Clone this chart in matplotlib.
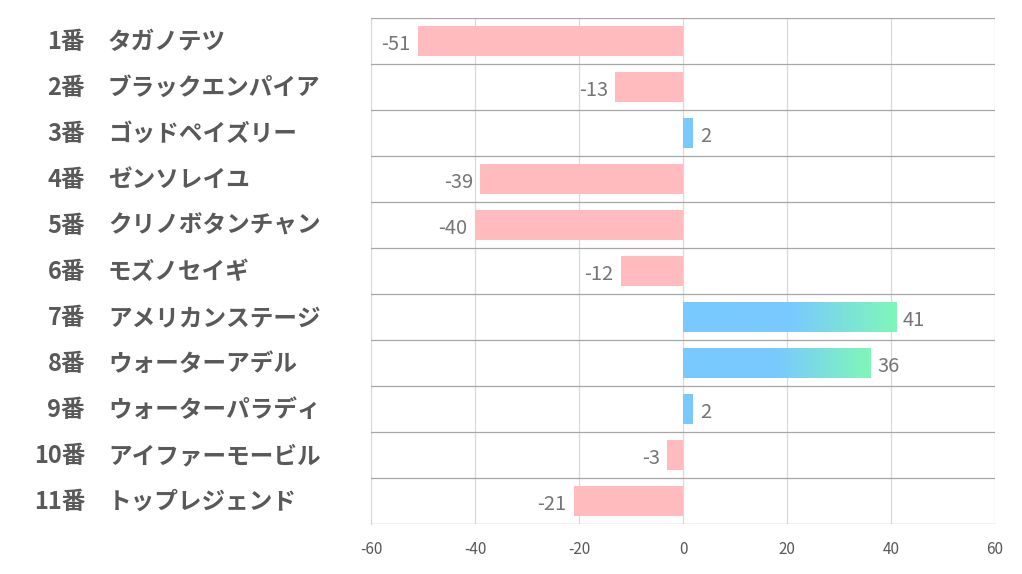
import numpy as np
import matplotlib.pyplot as plt
from matplotlib.colors import LinearSegmentedColormap
from matplotlib.transforms import blended_transform_factory

numbers = ['1番', '2番', '3番', '4番', '5番', '6番', '7番', '8番', '9番', '10番', '11番']
names = ['タガノテツ', 'ブラックエンパイア', 'ゴッドペイズリー', 'ゼンソレイユ', 'クリノボタンチャン',
         'モズノセイギ', 'アメリカンステージ', 'ウォーターアデル', 'ウォーターパラディ',
         'アイファーモービル', 'トップレジェンド']
values = [-51, -13, 2, -39, -40, -12, 41, 36, 2, -3, -21]
xticks = [-60, -40, -20, 0, 20, 40, 60]

plt.rcParams['font.family'] = ['Noto Sans CJK JP', 'DejaVu Sans']

fig = plt.figure(figsize=(10.22, 5.74), dpi=100)
ax = fig.add_axes([0.363, 0.0871, 0.6106, 0.8815])

n = len(values)
ypos = np.arange(n)
bars = ax.barh(ypos, values, height=0.65, color='#FFBBBD', zorder=2)

# gradient fill for the long positive bars: blue then fade to green over the outer half
cmap = LinearSegmentedColormap.from_list(
    'bg', [(0, '#79C9FF'), (0.5, '#79C9FF'), (1, '#7FF7B9')])
grad = np.linspace(0, 1, 256).reshape(1, -1)
for b, v in zip(bars, values):
    if v > 10:
        b.set_facecolor('none')
        x0, y0 = b.get_x(), b.get_y()
        im = ax.imshow(grad, cmap=cmap, aspect='auto', zorder=2,
                       extent=(x0, x0 + b.get_width(), y0 + b.get_height(), y0))
        im.set_clip_path(b)
    elif v > 0:
        b.set_facecolor('#79C9FF')

for y, v in zip(ypos, values):
    if v < 0:
        ax.text(v - 1.4, y + 0.07, str(v), ha='right', va='center',
                fontsize=14.5, color='#767676')
    else:
        ax.text(v + 1.3, y + 0.07, str(v), ha='left', va='center',
                fontsize=14.5, color='#767676')

ax.set_xlim(-60, 60)
ax.set_ylim(n - 0.5, -0.5)
ax.set_xticks(xticks)
ax.set_xticklabels([str(t) for t in xticks], fontsize=11, color='#595959')
ax.set_yticks([])
ax.tick_params(axis='x', length=0, pad=12)

for t in xticks:
    ax.axvline(t, color='#D9D9D9', lw=0.9, zorder=1)
for k in range(n + 1):
    ax.axhline(k - 0.5, color='#A6A6A6', lw=0.9, zorder=3)
for s in ax.spines.values():
    s.set_visible(False)
ax.spines['left'].set_visible(True)
ax.spines['left'].set_color('#D9D9D9')

trans = blended_transform_factory(fig.transFigure, ax.transData)
for y, num, name in zip(ypos, numbers, names):
    ax.text(0.0832, y + 0.02, num, transform=trans, ha='right', va='center',
            fontsize=17, fontweight='bold', color='#595959')
    ax.text(0.1057, y + 0.02, name, transform=trans, ha='left', va='center',
            fontsize=17, fontweight='bold', color='#595959')

fig.savefig('out.png', dpi=100)
